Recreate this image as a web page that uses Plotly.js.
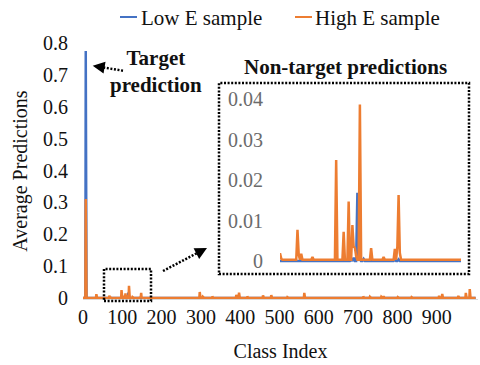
<!DOCTYPE html>
<html>
<head>
<meta charset="utf-8">
<script src="https://cdn.plot.ly/plotly-3.0.1.min.js"></script>
<style>html,body{margin:0;padding:0;background:#fff;}#chart{width:480px;height:365px;}</style>
</head>
<body>
<div id="chart"></div>
<script>
// ---- data ----
const classCount = 1000;
const seriesNames = ["Low E sample", "High E sample"];
const xTickVals = [0, 100, 200, 300, 400, 500, 600, 700, 800, 900];
const yTickVals = [0, 0.1, 0.2, 0.3, 0.4, 0.5, 0.6, 0.7, 0.8];
const insetTickVals = [0, 0.01, 0.02, 0.03, 0.04];

// Low E sample: classes with a visible value (all others read as 0)
const lowEClass = [7, 110, 112, 115, 117, 120, 145, 148];
const lowEValue = [0.775, 0.0005, 0.0008, 0.0169, 0.001, 0.0005, 0.0004, 0.0004];
const lowEBaseline = 0;

// High E sample: classes with a visible value (all others read at baseline)
const highEClass = [7, 34, 53, 54, 67, 68, 70, 79, 98, 104, 108, 111, 112, 113, 114, 117, 126, 136, 145, 147, 148, 149,
  297, 305, 329, 390, 397, 418, 458, 479, 520, 563, 713, 730, 759, 765, 801, 836, 906, 914, 955, 974, 984];
const highEValue = [0.311, 0.012, 0.0019, 0.0006, 0.0077, 0.0015, 0.0018, 0.001, 0.025, 0.0072, 0.0147, 0.0089, 0.0035, 0.0033, 0.0012, 0.0387, 0.0032, 0.001, 0.003, 0.0035, 0.0163, 0.002,
  0.019, 0.004, 0.005, 0.01, 0.017, 0.005, 0.008, 0.009, 0.003, 0.016, 0.005, 0.004, 0.004, 0.006, 0.003, 0.003, 0.007, 0.013, 0.007, 0.016, 0.028];
const highEBaseline = 0.0003;

// ---- build full series ----
const classIndex = [];
for (let i = 0; i < classCount; i++) classIndex.push(i);
function fullSeries(cls, vals, base) {
  const arr = classIndex.map(() => base);
  cls.forEach((c, k) => { arr[c] = vals[k]; });
  return arr;
}
const lowE = fullSeries(lowEClass, lowEValue, lowEBaseline);
const highE = fullSeries(highEClass, highEValue, highEBaseline);

const BLUE = "#4472C4", ORANGE = "#ED7D31";
const FONT = "Liberation Serif";

// pixel -> paper helpers (plot area: x 83..478, y 43..299)
const L = 83, R = 2, T = 43, B = 66, W = 480, H = 365;
const PW = W - L - R, PH = H - T - B;
const px = v => (v - L) / PW;
const py = v => (H - B - v) / PH;

const traces = [
  {x: classIndex, y: lowE, type: "scatter", mode: "lines", name: seriesNames[0],
   line: {color: BLUE, width: 2.5}, xaxis: "x", yaxis: "y", showlegend: false},
  {x: classIndex, y: highE, type: "scatter", mode: "lines", name: seriesNames[1],
   line: {color: ORANGE, width: 2.5}, xaxis: "x", yaxis: "y", showlegend: false},
  {x: classIndex, y: lowE, type: "scatter", mode: "lines", name: seriesNames[0],
   line: {color: BLUE, width: 2.5}, xaxis: "x2", yaxis: "y2", showlegend: false},
  {x: classIndex, y: highE, type: "scatter", mode: "lines", name: seriesNames[1],
   line: {color: ORANGE, width: 2.5}, xaxis: "x2", yaxis: "y2", showlegend: false}
];

const dotDash = "2px,1.6px";
const layout = {
  width: W, height: H,
  margin: {l: L, r: R, t: T, b: B},
  paper_bgcolor: "#fff", plot_bgcolor: "rgba(0,0,0,0)",
  font: {family: FONT, size: 20, color: "#111"},
  showlegend: false,
  xaxis: {
    range: [0, 1005], tickvals: xTickVals, ticks: "", showgrid: false, zeroline: false,
    showline: true, linecolor: "#d9d9d9", linewidth: 1,
    tickfont: {family: FONT, size: 20, color: "#111"},
    title: {text: "Class Index", font: {family: FONT, size: 20, color: "#111"}, standoff: 16}
  },
  yaxis: {
    range: [-0.003, 0.8], tickvals: yTickVals, ticks: "", showgrid: false, zeroline: false, showline: false,
    tickfont: {family: FONT, size: 20, color: "#111"}, ticklabelstandoff: 14,
    title: {text: "Average Predictions", font: {family: FONT, size: 20, color: "#111"}, standoff: 10}
  },
  xaxis2: {
    domain: [px(280), px(461)], range: [53, 198], anchor: "y2",
    showticklabels: false, ticks: "", showgrid: false, zeroline: false, showline: false
  },
  yaxis2: {
    domain: [py(265), py(95)], range: [-0.00099, 0.04106], anchor: "x2",
    tickvals: insetTickVals, ticks: "", showgrid: false, zeroline: false, showline: false,
    tickfont: {family: FONT, size: 20, color: "#6b6b6b"}, ticklabelstandoff: 16
  },
  shapes: [
    // inset frame
    {type: "rect", xref: "paper", yref: "paper", x0: px(219), x1: px(469), y0: py(274), y1: py(83),
     line: {color: "#000", width: 2.5, dash: dotDash}},
    // zoom region in main plot
    {type: "rect", xref: "paper", yref: "paper", x0: px(104), x1: px(151), y0: py(301), y1: py(269),
     line: {color: "#000", width: 2.5, dash: dotDash}},
    // dotted arrow shafts
    {type: "line", xref: "paper", yref: "paper", x0: px(163), y0: py(271), x1: px(202), y1: py(250.5),
     line: {color: "#000", width: 2.5, dash: dotDash}},
    {type: "line", xref: "paper", yref: "paper", x0: px(123), y0: py(70.7), x1: px(98), y1: py(66.6),
     line: {color: "#000", width: 2.5, dash: dotDash}},
    // legend line samples
    {type: "line", xref: "paper", yref: "paper", x0: px(120), x1: px(137), y0: py(17), y1: py(17),
     line: {color: BLUE, width: 2}},
    {type: "line", xref: "paper", yref: "paper", x0: px(295), x1: px(312), y0: py(17), y1: py(17),
     line: {color: ORANGE, width: 2}}
  ],
  annotations: [
    {xref: "paper", yref: "paper", x: px(139), y: py(17.5), xanchor: "left", yanchor: "middle",
     text: seriesNames[0], showarrow: false, font: {family: FONT, size: 21, color: "#111"}},
    {xref: "paper", yref: "paper", x: px(313), y: py(17.5), xanchor: "left", yanchor: "middle",
     text: seriesNames[1], showarrow: false, font: {family: FONT, size: 21, color: "#111"}},
    {xref: "paper", yref: "paper", x: px(156), y: py(71), xanchor: "center", yanchor: "middle",
     text: "<b>Target</b><br><b>prediction</b>", showarrow: false, font: {family: FONT, size: 21, color: "#111"}},
    {xref: "paper", yref: "paper", x: px(345), y: py(67), xanchor: "center", yanchor: "middle",
     text: "<b>Non-target predictions</b>", showarrow: false, font: {family: FONT, size: 21, color: "#111"}},
    // arrow heads
    {xref: "paper", yref: "paper", x: px(92.7), y: py(65.7), ax: 9, ay: 1.5, text: "", showarrow: true,
     arrowhead: 2, arrowsize: 1.2, arrowwidth: 2, arrowcolor: "#000", standoff: 0},
    {xref: "paper", yref: "paper", x: px(207), y: py(248), ax: -8, ay: 4.2, text: "", showarrow: true,
     arrowhead: 2, arrowsize: 1.2, arrowwidth: 2, arrowcolor: "#000", standoff: 0}
  ]
};

Plotly.newPlot("chart", traces, layout, {displayModeBar: false, staticPlot: true});
</script>
</body>
</html>
